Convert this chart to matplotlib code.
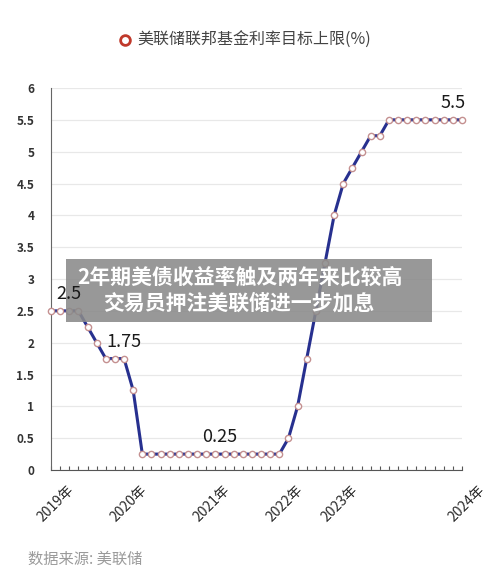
import matplotlib
matplotlib.use("Agg")
import matplotlib.pyplot as plt
from matplotlib.patches import Rectangle
from matplotlib.transforms import ScaledTranslation

plt.rcParams['font.family'] = ['Noto Sans CJK SC', 'DejaVu Sans']

# 联邦基金利率目标上限, 每次议息会议一个点
rates = [2.5, 2.5, 2.5, 2.5, 2.25, 2.0, 1.75, 1.75, 1.75, 1.25] + \
        [0.25] * 16 + \
        [0.5, 1.0, 1.75, 2.5, 3.25, 4.0, 4.5, 4.75, 5.0, 5.25, 5.25] + \
        [5.5] * 9
year_pos = [0, 8, 17, 25, 31, 45]
year_labels = ['2019年', '2020年', '2021年', '2022年', '2023年', '2024年']
notes = [(2, 2.5, '2.5'), (8, 1.75, '1.75'), (18.5, 0.25, '0.25'), (44, 5.5, '5.5')]
y_ticks = [0, 0.5, 1, 1.5, 2, 2.5, 3, 3.5, 4, 4.5, 5, 5.5, 6]

fig = plt.figure(figsize=(5, 5.81), dpi=100)
ax = fig.add_axes([0.102, 0.191, 0.822, 0.6575])

xs = list(range(len(rates)))
ax.plot(xs, rates, color='#27308f', lw=2.2, marker='o', ms=4.5,
        mfc='white', mec='#c49090', mew=1.0, clip_on=False, zorder=3)

ax.set_xlim(0, len(rates) - 1)
ax.set_ylim(0, 6)
ax.set_yticks(y_ticks)
ax.set_yticklabels([('%g' % v) for v in y_ticks], fontsize=8.5,
                   fontweight='bold', color='#333333')
ax.set_xticks(xs)
ax.set_xticklabels([])
ax.tick_params(axis='x', direction='in', length=3, color='#555555')
ax.tick_params(axis='y', length=0, pad=12)
ax.grid(axis='y', color='#e8e8e8', lw=0.9)
ax.set_axisbelow(True)
for s in ['top', 'right']:
    ax.spines[s].set_visible(False)
ax.spines['left'].set_color('#666666')
ax.spines['bottom'].set_color('#555555')

# 年份标签, 斜放
shift = ScaledTranslation(16 / 100, -13 / 100, fig.dpi_scale_trans)
for p, lab in zip(year_pos, year_labels):
    ax.text(p, 0, lab, transform=ax.get_xaxis_transform() + shift,
            rotation=45, ha='right', va='top', rotation_mode='anchor',
            fontsize=10, color='#2a2a2a', fontweight='medium')

# 数值标注, 放在横幅上层
for x, y, t in notes:
    fig.text(x, y + 0.12, t, ha='center', va='bottom', fontsize=13,
             color='#1a1a1a', fontweight='medium', transform=ax.transData,
             zorder=7)

# 图例
fig.lines.append(plt.Line2D([0.25], [0.931], marker='o', ms=7, mfc='white',
                            mec='#c0392b', mew=2, transform=fig.transFigure))
fig.text(0.275, 0.931, '美联储联邦基金利率目标上限(%)', fontsize=11.5,
         color='#444444', va='center', ha='left')

# 标题横幅
fig.patches.append(Rectangle((0.132, 0.446), 0.732, 0.108, transform=fig.transFigure,
                             facecolor='#8a8a8a', alpha=0.88, zorder=5))
fig.text(0.48, 0.523, '2年期美债收益率触及两年来比较高', fontsize=15,
         fontweight='bold', color='white', ha='center', va='center', zorder=6)
fig.text(0.478, 0.479, '交易员押注美联储进一步加息', fontsize=15,
         fontweight='bold', color='white', ha='center', va='center', zorder=6)

fig.text(0.056, 0.037, '数据来源: 美联储', fontsize=11, color='#9a9a9a',
         ha='left', va='center')

fig.savefig('out.png', dpi=100, facecolor='white')
